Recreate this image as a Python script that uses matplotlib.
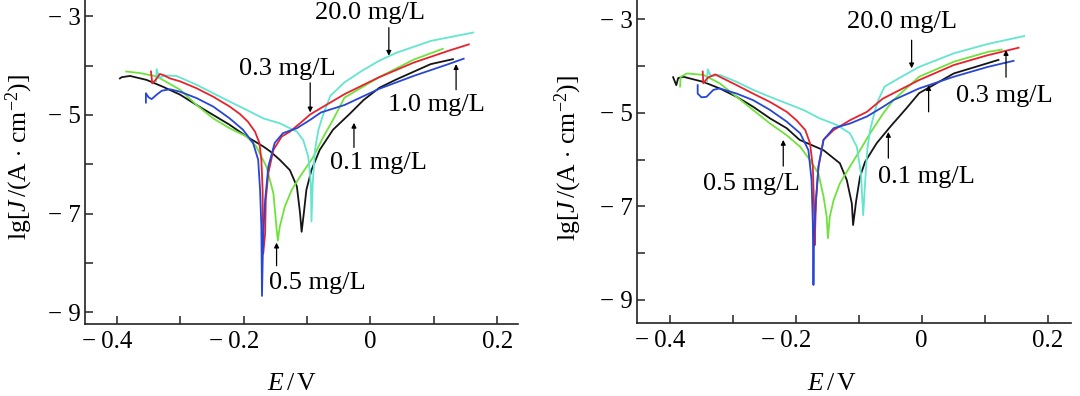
import matplotlib
matplotlib.use('Agg')
import matplotlib.pyplot as plt
from matplotlib.ticker import FixedLocator, FixedFormatter

plt.rcParams['font.family'] = ['Liberation Serif', 'DejaVu Serif']
plt.rcParams['mathtext.fontset'] = 'custom'
plt.rcParams['mathtext.rm'] = 'Liberation Serif'
plt.rcParams['mathtext.it'] = 'Liberation Serif:italic'
plt.rcParams['mathtext.bf'] = 'Liberation Serif:bold'

# ---------------- data: left panel ----------------
black_L_E = [-0.395, -0.392, -0.379, -0.353, -0.327, -0.300, -0.274, -0.248, -0.222, -0.195, -0.169, -0.158,
             -0.143, -0.127, -0.116, -0.111, -0.1085, -0.105, -0.101, -0.093, -0.080, -0.059, -0.032, -0.011,
             0.014, 0.041, 0.095, 0.130]
black_L_J = [-4.26, -4.235, -4.21, -4.29, -4.43, -4.59, -4.80, -5.00, -5.20, -5.44, -5.64, -5.74,
             -5.91, -6.12, -6.45, -6.99, -7.37, -6.99, -6.52, -6.12, -5.71, -5.30, -4.97, -4.70,
             -4.45, -4.28, -3.97, -3.87]

red_L_E = [-0.346, -0.344, -0.338, -0.332, -0.327, -0.316, -0.300, -0.274, -0.248, -0.222, -0.206, -0.193,
           -0.182, -0.175, -0.172, -0.170, -0.169, -0.166, -0.165, -0.161, -0.153, -0.140, -0.127, -0.111,
           -0.095, -0.041, 0.013, 0.068, 0.123, 0.155]
red_L_J = [-4.12, -4.36, -4.28, -4.17, -4.19, -4.26, -4.32, -4.46, -4.63, -4.83, -4.98, -5.14,
           -5.34, -5.57, -5.91, -6.52, -7.81, -7.40, -6.72, -6.18, -5.71, -5.44, -5.34, -5.17,
           -4.99, -4.58, -4.24, -3.94, -3.70, -3.57]

blue_L_E = [-0.354, -0.354, -0.350, -0.345, -0.337, -0.329, -0.316, -0.300, -0.274, -0.248, -0.222, -0.201,
            -0.185, -0.177, -0.174, -0.172, -0.171, -0.169, -0.166, -0.161, -0.151, -0.138, -0.116, -0.095,
            -0.078, -0.041, 0.014, 0.068, 0.123, 0.147]
blue_L_J = [-4.75, -4.56, -4.64, -4.68, -4.59, -4.51, -4.48, -4.53, -4.66, -4.83, -5.07, -5.30,
            -5.57, -5.91, -6.52, -7.27, -8.67, -7.40, -6.72, -6.05, -5.57, -5.37, -5.27, -5.10,
            -4.95, -4.80, -4.47, -4.21, -3.97, -3.86]

green_L_E = [-0.385, -0.364, -0.337, -0.300, -0.274, -0.248, -0.222, -0.195, -0.180, -0.164, -0.153, -0.148,
             -0.146, -0.143, -0.135, -0.124, -0.111, -0.090, -0.074, -0.059, -0.041, 0.013, 0.068, 0.114]
green_L_J = [-4.12, -4.15, -4.22, -4.49, -4.80, -5.07, -5.27, -5.44, -5.64, -6.05, -6.59, -7.30,
             -7.55, -7.27, -6.86, -6.52, -6.25, -5.85, -5.44, -5.10, -4.65, -4.24, -3.88, -3.66]

cyan_L_E = [-0.338, -0.337, -0.333, -0.325, -0.306, -0.274, -0.248, -0.222, -0.195, -0.169, -0.143, -0.116,
            -0.106, -0.098, -0.094, -0.093, -0.091, -0.0875, -0.082, -0.074, -0.063, -0.041, -0.014, 0.014,
            0.041, 0.095, 0.162]
cyan_L_J = [-4.32, -4.07, -4.25, -4.20, -4.21, -4.39, -4.56, -4.73, -4.90, -5.07, -5.17, -5.34,
            -5.51, -5.85, -6.39, -7.16, -6.39, -5.71, -5.30, -4.97, -4.61, -4.34, -4.11, -3.90,
            -3.74, -3.50, -3.33]

# ---------------- data: right panel ----------------
black_R_E = [-0.395, -0.390, -0.387, -0.379, -0.347, -0.321, -0.294, -0.268, -0.241, -0.2145, -0.194, -0.156,
             -0.130, -0.119, -0.111, -0.109, -0.104, -0.098, -0.090, -0.0715, -0.050, -0.024, -0.004, 0.051,
             0.105, 0.122]
black_R_J = [-4.24, -4.41, -4.26, -4.23, -4.34, -4.48, -4.66, -4.87, -5.12, -5.33, -5.58, -5.80,
             -6.08, -6.44, -6.94, -7.40, -6.87, -6.37, -6.05, -5.65, -5.30, -4.90, -4.58, -4.16,
             -3.94, -3.87]

red_R_E = [-0.348, -0.347, -0.340, -0.328, -0.321, -0.294, -0.268, -0.241, -0.2145, -0.199, -0.185, -0.1775,
           -0.173, -0.171, -0.170, -0.168, -0.164, -0.156, -0.140, -0.114, -0.087, -0.062, -0.004, 0.051,
           0.105, 0.154]
red_R_J = [-4.12, -4.37, -4.25, -4.18, -4.23, -4.41, -4.59, -4.77, -4.98, -5.16, -5.37, -5.65,
           -6.15, -7.01, -7.83, -6.87, -6.15, -5.58, -5.37, -5.16, -4.98, -4.70, -4.30, -3.98,
           -3.77, -3.61]

blue_R_E = [-0.356, -0.356, -0.350, -0.342, -0.331, -0.321, -0.294, -0.268, -0.241, -0.2145, -0.193, -0.180,
            -0.175, -0.173, -0.172, -0.171, -0.168, -0.164, -0.156, -0.140, -0.114, -0.087, -0.061, -0.045,
            -0.004, 0.051, 0.105, 0.146]
blue_R_J = [-4.41, -4.59, -4.67, -4.66, -4.51, -4.48, -4.59, -4.73, -4.94, -5.19, -5.44, -5.80,
            -6.44, -7.36, -8.68, -7.58, -6.87, -6.15, -5.58, -5.33, -5.23, -5.08, -4.87, -4.73,
            -4.48, -4.23, -4.02, -3.89]

green_R_E = [-0.384, -0.383, -0.373, -0.347, -0.321, -0.294, -0.268, -0.241, -0.2145, -0.193, -0.1775, -0.164,
             -0.156, -0.151, -0.149, -0.146, -0.140, -0.130, -0.114, -0.098, -0.082, -0.061, -0.045, -0.004,
             0.051, 0.105, 0.127]
green_R_J = [-4.44, -4.23, -4.16, -4.19, -4.37, -4.66, -4.94, -5.23, -5.48, -5.73, -6.01, -6.30,
             -6.79, -7.22, -7.68, -7.22, -6.87, -6.51, -6.15, -5.80, -5.44, -5.01, -4.73, -4.23,
             -3.91, -3.70, -3.65]

cyan_R_E = [-0.341, -0.340, -0.335, -0.321, -0.294, -0.268, -0.241, -0.2145, -0.188, -0.162, -0.135, -0.114,
            -0.103, -0.0965, -0.093, -0.090, -0.0865, -0.082, -0.074, -0.069, -0.059, -0.032, -0.004, 0.051,
            0.105, 0.163]
cyan_R_J = [-4.34, -4.07, -4.22, -4.19, -4.34, -4.51, -4.66, -4.80, -4.94, -5.12, -5.26, -5.44,
            -5.73, -6.30, -7.19, -6.51, -5.80, -5.37, -4.94, -4.73, -4.44, -4.23, -4.02, -3.73,
            -3.53, -3.36]

x_major = [-0.4, -0.2, 0.0, 0.2]
x_major_labels = ['\u2212\u20090.4   ', '\u2212\u20090.2   ', '0', '0.2']
x_minor = [-0.3, -0.1, 0.1]
y_major = [-3, -5, -7, -9]
y_major_labels = ['\u2212 3', '\u2212 5', '\u2212 7', '\u2212 9']
y_minor = [-4, -6, -8]

COL = {'black': '#151515', 'red': '#e8222c', 'blue': '#2846d6',
       'green': '#6ee33c', 'cyan': '#63e6cf'}

FS_TICK = 18
FS_ANN = 19
FS_LAB = 18.5

fig = plt.figure(figsize=(10.8, 3.96), dpi=100)
axL = fig.add_axes([85 / 1080, 72 / 396, 433 / 1080, 324 / 396])
axR = fig.add_axes([637 / 1080, 72.7 / 396, 433.7 / 1080, 323.3 / 396])


def style(ax, xlim, ylim):
    ax.set_xlim(*xlim)
    ax.set_ylim(*ylim)
    for s in ('top', 'right'):
        ax.spines[s].set_visible(False)
    for s in ('left', 'bottom'):
        ax.spines[s].set_linewidth(1.2)
        ax.spines[s].set_color('#222222')
    ax.xaxis.set_major_locator(FixedLocator(x_major))
    ax.xaxis.set_major_formatter(FixedFormatter(x_major_labels))
    ax.xaxis.set_minor_locator(FixedLocator(x_minor))
    ax.yaxis.set_major_locator(FixedLocator(y_major))
    ax.yaxis.set_major_formatter(FixedFormatter(y_major_labels))
    ax.yaxis.set_minor_locator(FixedLocator(y_minor))
    ax.tick_params(which='both', direction='in', length=5.5, width=1.1, color='#222222',
                   labelsize=FS_TICK, top=False, right=False)
    ax.tick_params(axis='x', which='major', pad=5)
    ax.tick_params(axis='y', which='major', pad=3)


style(axL, (-0.450, 0.2326), (-9.24, -2.67))
style(axR, (-0.4524, 0.2368), (-9.50, -2.59))

LW = 1.3
for ax, sets in ((axL, [(black_L_E, black_L_J, 'black'), (green_L_E, green_L_J, 'green'),
                        (cyan_L_E, cyan_L_J, 'cyan'), (red_L_E, red_L_J, 'red'),
                        (blue_L_E, blue_L_J, 'blue')]),
                 (axR, [(black_R_E, black_R_J, 'black'), (green_R_E, green_R_J, 'green'),
                        (cyan_R_E, cyan_R_J, 'cyan'), (red_R_E, red_R_J, 'red'),
                        (blue_R_E, blue_R_J, 'blue')])):
    for e, j, c in sets:
        ax.plot(e, j, color=COL[c], lw=LW, solid_joinstyle='round')

arrow_kw = dict(arrowstyle='-|>', color='black', lw=0.9, mutation_scale=7, shrinkA=0, shrinkB=0)


def arrow(ax, x, y_tail, y_tip):
    ax.annotate('', xy=(x, y_tip), xytext=(x, y_tail), arrowprops=arrow_kw)


def label(ax, x, y, s):
    ax.text(x, y, s, fontsize=FS_ANN, ha='center', va='center')


# left panel annotations
label(axL, -0.001, -2.93, '20.0 mg/L')
arrow(axL, 0.029, -3.23, -3.80)
label(axL, -0.131, -4.07, '0.3 mg/L')
arrow(axL, -0.095, -4.35, -4.95)
label(axL, 0.104, -4.80, '1.0 mg/L')
arrow(axL, 0.135, -4.49, -3.97)
label(axL, 0.013, -5.98, '0.1 mg/L')
arrow(axL, -0.026, -5.66, -5.16)
label(axL, -0.083, -8.40, '0.5 mg/L')
arrow(axL, -0.148, -8.06, -7.59)

# right panel annotations
label(axR, -0.032, -3.07, '20.0 mg/L')
arrow(axR, -0.016, -3.45, -4.05)
label(axR, 0.132, -4.64, '0.3 mg/L')
arrow(axR, 0.134, -4.24, -3.66)
arrow(axR, 0.011, -4.98, -4.41)
label(axR, 0.007, -6.37, '0.1 mg/L')
arrow(axR, -0.053, -5.97, -5.41)
label(axR, -0.270, -6.52, '0.5 mg/L')
arrow(axR, -0.220, -6.14, -5.58)

ylab = r'lg[$J\,$/(A $\cdot$ cm$^{-2}$)]'
xlab = r'$E\,/\,\mathrm{V}$'
fig.text(19 / 1080, 1 - 157 / 396, ylab, rotation=90, ha='center', va='center', fontsize=FS_LAB)
fig.text(568 / 1080, 1 - 158 / 396, ylab, rotation=90, ha='center', va='center', fontsize=FS_LAB)
fig.text(292 / 1080, 1 - 384 / 396, xlab, ha='center', va='center', fontsize=FS_LAB)
fig.text(832 / 1080, 1 - 384 / 396, xlab, ha='center', va='center', fontsize=FS_LAB)

fig.savefig('out.png', dpi=100)
